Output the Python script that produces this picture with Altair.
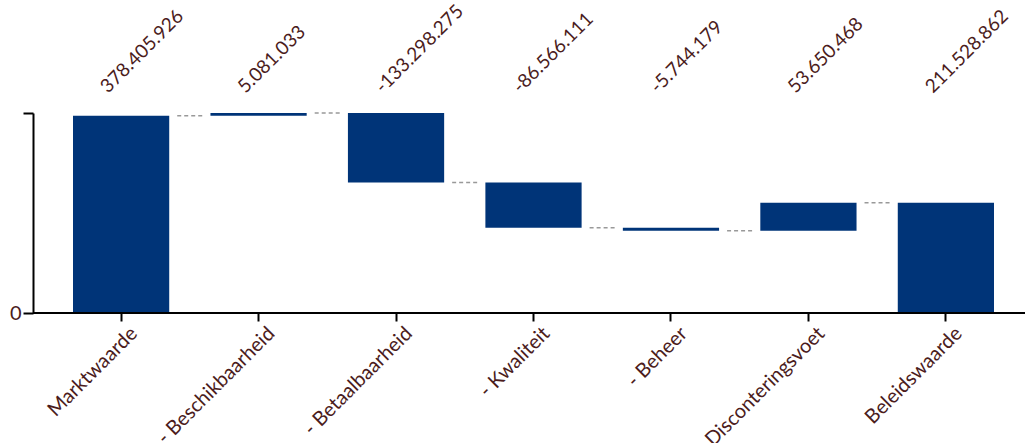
import altair as alt
import pandas as pd

categories = ["Marktwaarde", "- Beschikbaarheid", "- Betaalbaarheid", "- Kwaliteit",
              "- Beheer", "- Disconteringsvoet", "Beleidswaarde"]
values = [378405926, 5081033, -133298275, -86566111, -5744179, 53650468, 211528862]
value_labels = ["378.405.926", "5.081.033", "-133.298.275", "-86.566.111",
                "-5.744.179", "53.650.468", "211.528.862"]
is_total = [True, False, False, False, False, False, True]

rows = []
run = 0
for i, (c, v, lab, tot) in enumerate(zip(categories, values, value_labels, is_total)):
    if tot:
        start, end = 0, v
        run = v
    else:
        start, end = run, run + v
        run = end
    rows.append({"cat": c, "start": start, "end": end, "label": lab,
                 "next": categories[i + 1] if i + 1 < len(categories) else None})
df = pd.DataFrame(rows)
conn = df[df["next"].notna()].copy()

ymax = max(max(df["start"]), max(df["end"]))
W, H = 992, 200
TXT = "#4b1c1c"
BAR = "#003478"

xscale = alt.Scale(domain=categories, range=[40, 961], paddingInner=0.3, paddingOuter=0)
yscale = alt.Scale(domain=[0, ymax], nice=False, zero=True)

bars = alt.Chart(df).mark_bar(color=BAR, cornerRadius=0).encode(
    x=alt.X("cat:N", scale=xscale, sort=categories,
            axis=alt.Axis(title=None, domain=False, labelAngle=315, labelAlign="right",
                          labelBaseline="top", labelFontSize=20, labelColor=TXT,
                          labelFont="Lato", tickColor="black", tickWidth=2, tickSize=8,
                          labelPadding=2, labelOffset=6)),
    y=alt.Y("start:Q", scale=yscale,
            axis=alt.Axis(title=None, values=[0, ymax], grid=False,
                          labelExpr="datum.value == 0 ? '0' : ''",
                          labelFontSize=20, labelColor=TXT, labelFont="Lato",
                          domainColor="black", domainWidth=2, tickColor="black",
                          tickWidth=2, tickSize=10, labelPadding=2)),
    y2="end:Q",
)

connectors = alt.Chart(conn).mark_rule(color="#999999", strokeDash=[4, 3], strokeWidth=1.5,
                                       xOffset=8, x2Offset=-8).encode(
    x=alt.X("cat:N", scale=xscale, sort=categories, bandPosition=1),
    x2=alt.X2("next:N", bandPosition=0),
    y=alt.Y("end:Q", scale=yscale),
)

xline = alt.Chart(df.head(1)).mark_rule(color="black", strokeWidth=2).encode(
    x=alt.value(0), x2=alt.value(W), y=alt.value(H)
)

texts = alt.Chart(df).mark_text(align="left", baseline="alphabetic", angle=315,
                                fontSize=19, font="Lato", color=TXT, xOffset=-13).encode(
    x=alt.X("cat:N", scale=xscale, sort=categories),
    y=alt.value(-19),
    text="label:N",
)

chart = alt.layer(bars, connectors, xline, texts).properties(
    width=W, height=H,
    autosize=alt.AutoSizeParams(type="none"),
    padding={"left": 33, "top": 113, "right": 0, "bottom": 130},
).configure_view(stroke=None)

chart.save("out.html", embed_options={"renderer": "svg", "actions": False})
